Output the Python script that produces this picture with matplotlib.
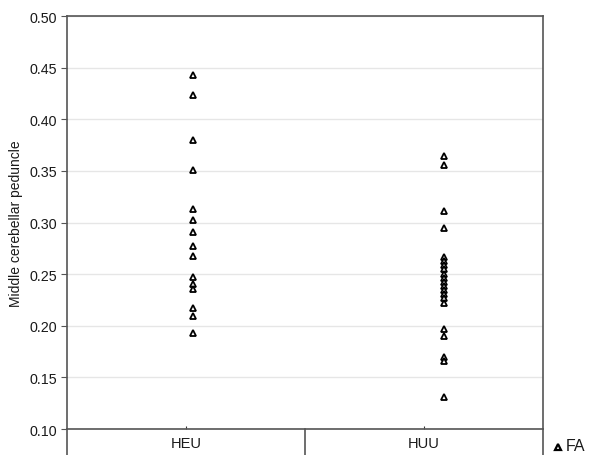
import numpy as np
import matplotlib.pyplot as plt
from matplotlib.lines import Line2D

plt.rcParams['font.family'] = ['Liberation Sans', 'DejaVu Sans']

groups = ["HEU", "HUU"]
heu_fa = [0.443, 0.4235, 0.380, 0.351, 0.313, 0.302, 0.291, 0.2775, 0.268,
          0.247, 0.2405, 0.2355, 0.217, 0.209, 0.193]
huu_fa = [0.3647, 0.3557, 0.3114, 0.2944, 0.2666, 0.2625, 0.2585, 0.2545,
          0.2505, 0.2465, 0.2425, 0.2385, 0.2345, 0.2305, 0.2265, 0.222,
          0.197, 0.1905, 0.1697, 0.1661, 0.1307]
y_ticks = [0.10, 0.15, 0.20, 0.25, 0.30, 0.35, 0.40, 0.45, 0.50]

W, H = 613, 456
fig = plt.figure(figsize=(W / 100, H / 100), dpi=100)
L, R, T, B = 67, 543, 17, 430
ax = fig.add_axes([L / W, 1 - B / H, (R - L) / W, (B - T) / H])

# markers sit a little right of the category centre, as in the source
offsets = [0.03, 0.085]
for i, vals in enumerate([heu_fa, huu_fa]):
    ax.plot(np.full(len(vals), i + offsets[i]), vals, linestyle='none',
            marker='^', markersize=5, markerfacecolor='white',
            markeredgecolor='black', markeredgewidth=1.3, zorder=3)

ax.set_xlim(-0.5, 1.5)
ax.set_ylim(0.10, 0.50)
ax.set_yticks(y_ticks)
ax.set_yticklabels(["%.2f" % v for v in y_ticks])
ax.set_xticks([0, 1])
ax.set_xticklabels([])
ax.tick_params(axis='x', direction='in', length=2, color='#333333')
ax.tick_params(axis='y', direction='out', length=4, color='#555555',
               labelsize=10.3, pad=3, labelcolor='#1a1a1a')
ax.grid(axis='y', color='#e6e6e6', linewidth=1)
ax.set_axisbelow(True)
for s in ax.spines.values():
    s.set_color('#555555')
    s.set_linewidth(1.2)
ax.set_ylabel("Middle cerebellar peduncle", fontsize=10, color='#1a1a1a',
              labelpad=5)

# category table below the axes
for xp in [L, (L + R) / 2, R]:
    fig.add_artist(Line2D([xp / W, xp / W], [0, 1 - B / H],
                          color='#555555', linewidth=1.2))
for i, g in enumerate(groups):
    xc = L + (R - L) * (i + 0.5) / len(groups)
    fig.text(xc / W, 1 - 444 / H, g, ha='center', va='center',
             fontsize=10.5, color='#1a1a1a')

# legend
fig.add_artist(Line2D([558 / W], [1 - 448 / H], linestyle='none', marker='^',
                      markersize=5, markerfacecolor='white',
                      markeredgecolor='black', markeredgewidth=1.6))
fig.text(566 / W, 1 - 447 / H, "FA", ha='left', va='center', fontsize=11.5,
         color='#1a1a1a')

fig.savefig("out.png", dpi=100)
